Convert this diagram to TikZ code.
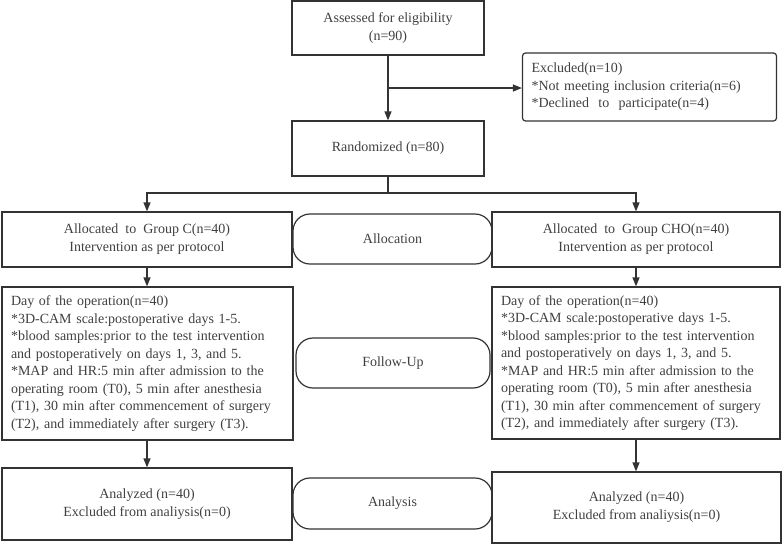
\documentclass[tikz,border=0pt]{standalone}
\usepackage{fontspec}
\setmainfont{Liberation Serif}
\usetikzlibrary{arrows.meta}
\begin{document}
\begin{tikzpicture}[x=1pt,y=-1pt,
  box/.style={draw=black!80, line width=1.2pt, inner sep=0pt, align=center, text=black!75, font=\fontsize{14}{18}\selectfont},
  pill/.style={box, rounded corners=17pt},
  listbox/.style={box, align=left, inner xsep=9pt, font=\fontsize{14}{17.5}\selectfont},
  arr/.style={draw=black!80, line width=1.2pt, -{Triangle[length=9pt,width=7pt]}}]
\useasboundingbox (0,0) rectangle (784,544);
% enrolment
\node [box, minimum width=192pt, minimum height=54pt] (assess) at (388,28) {Assessed for eligibility\\(n=90)};
\node [listbox, rounded corners=3pt, text width=236pt, minimum height=68pt] (excl) at (649.5,87) {Excluded(n=10)\\{}*Not meeting inclusion criteria(n=6)\\{}*Declined\ \ to\ \ participate(n=4)};
\node [box, minimum width=192pt, minimum height=55pt] (rand) at (388,148.5) {Randomized (n=80)};
% allocation
\node [box, minimum width=290pt, minimum height=55pt] (allocC) at (147,239.5) {Allocated\ \ to\ \ Group C(n=40)\\Intervention as per protocol};
\node [box, minimum width=288pt, minimum height=55pt] (allocCHO) at (636,239.5) {Allocated\ \ to\ \ Group CHO(n=40)\\Intervention as per protocol};
\node [pill, minimum width=199pt, minimum height=50pt] (allocation) at (392.5,239) {Allocation};
% follow-up
\node [listbox, text width=273pt, minimum height=153pt] (followC) at (147.5,363.5) {Day of the operation(n=40)\\{}*3D-CAM scale:postoperative days 1-5.\\{}*blood samples:prior to the test intervention\\and postoperatively on days 1, 3, and 5.\\{}*MAP and HR:5 min after admission to the\\operating room (T0), 5 min after anesthesia\\(T1), 30 min after commencement of surgery\\(T2), and immediately after surgery (T3).};
\node [listbox, text width=270pt, minimum height=152pt] (followCHO) at (636,363) {Day of the operation(n=40)\\{}*3D-CAM scale:postoperative days 1-5.\\{}*blood samples:prior to the test intervention\\and postoperatively on days 1, 3, and 5.\\{}*MAP and HR:5 min after admission to the\\operating room (T0), 5 min after anesthesia\\(T1), 30 min after commencement of surgery\\(T2), and immediately after surgery (T3).};
\node [pill, minimum width=194pt, minimum height=50pt] (followup) at (393,363) {Follow-Up};
% analysis
\node [box, minimum width=290pt, minimum height=72pt] (anaC) at (147,504) {Analyzed (n=40)\\Excluded from analiysis(n=0)};
\node [box, minimum width=289pt, minimum height=71pt] (anaCHO) at (636.5,507.5) {Analyzed (n=40)\\Excluded from analiysis(n=0)};
\node [pill, minimum width=199pt, minimum height=51pt] (analysis) at (392.5,503.5) {Analysis};
% connectors
\coordinate (excljoin) at (388,88);
\coordinate (split) at (388,193);
\draw [arr] (assess.south) -- (rand.north);
\draw [arr] (excljoin) -- (excljoin -| excl.west);
\draw [draw=black!80, line width=1.2pt] (rand.south) -- (split);
\draw [arr] (split) -| (allocC.north);
\draw [arr] (split) -| (allocCHO.north);
\draw [arr] (allocC.south) -- (allocC.south |- followC.north);
\draw [arr] (allocCHO.south) -- (allocCHO.south |- followCHO.north);
\draw [arr] (allocC.south |- followC.south) -- (allocC.south |- anaC.north);
\draw [arr] (allocCHO.south |- followCHO.south) -- (allocCHO.south |- anaCHO.north);
\end{tikzpicture}
\end{document}
